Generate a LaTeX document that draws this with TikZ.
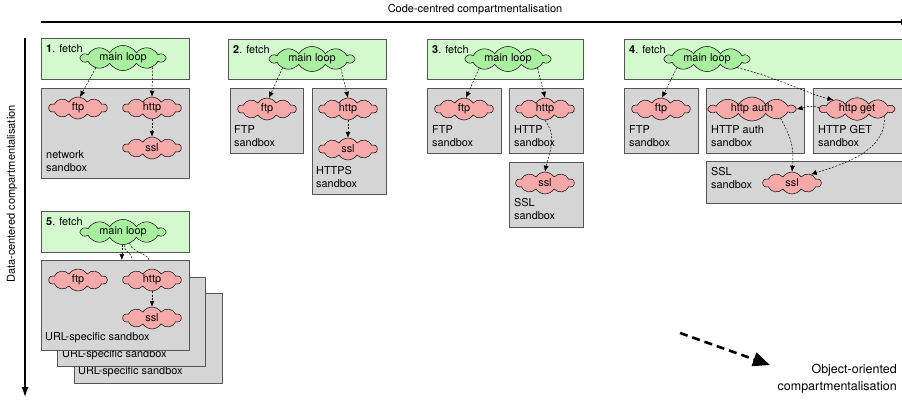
\documentclass[tikz,border=0pt]{standalone}
\usepackage{fontspec}
\setmainfont{TeX Gyre Heros}
\usetikzlibrary{shapes.symbols,arrows.meta,calc}
\definecolor{gfill}{HTML}{D4F9CF}
\definecolor{gcloud}{HTML}{A9EFA0}
\definecolor{rcloud}{HTML}{F5A9A9}
\definecolor{sbox}{HTML}{D5D5D5}
\definecolor{bord}{HTML}{555555}
\tikzset{
 fetchbox/.style={draw=bord, fill=gfill, line width=0.9pt, rectangle, inner sep=0pt, outer sep=0pt, anchor=north west},
 sandbox/.style={draw=bord, fill=sbox, line width=0.9pt, rectangle, inner sep=0pt, outer sep=0pt, anchor=north west},
 cl/.style={cloud, cloud puffs=10, cloud puff arc=115, cloud ignores aspect, draw=black, line width=0.5pt, inner sep=0pt, font=\fontsize{10.9}{12}\selectfont},
 mlc/.style={cl, fill=gcloud, minimum width=84pt, minimum height=20pt},
 rc/.style={cl, fill=rcloud, minimum width=58pt, minimum height=22pt},
 lbl/.style={anchor=west, inner sep=0pt, font=\fontsize{10.9}{12.5}\selectfont, align=left},
 dep/.style={draw, dash pattern=on 2pt off 1.5pt, line width=0.5pt, -{Latex[length=6pt,width=5pt]}},
 depn/.style={draw, dash pattern=on 2pt off 1.5pt, line width=0.5pt},
 axis/.style={draw, line width=1.1pt},
 axlbl/.style={inner sep=0pt, font=\fontsize{11}{12}\selectfont},
}
\begin{document}
\begin{tikzpicture}[x=1pt,y=-1pt]
\useasboundingbox (0,0) rectangle (902,399);
\clip (0,0) rectangle (902,399);
% axes
\node[axlbl] (ctop) at (475,10) {Code-centred compartmentalisation};
\node[axlbl, rotate=90] (dleft) at (12,194) {Data-centered compartmentalisation};
\coordinate (xa) at (41,22);
\coordinate (xb) at (909,22);
\draw[axis, -{Latex[length=8pt,width=6pt]}] (xa) -- (xb);
\coordinate (ya) at (25,38);
\coordinate (yb) at (25,397);
\draw[axis, -{Latex[length=10pt,width=7pt]}] (ya) -- (yb);

% ---------- 1
\node[fetchbox, minimum width=148pt, minimum height=41pt] (f1) at (41,38) {};
\node[sandbox, minimum width=148pt, minimum height=90pt] (s1) at (41,88) {};
\node[lbl] (t1) at (46,49) {\textbf{1}. fetch};
\node[lbl] (n1) at (46,161) {network\\sandbox};
\node[mlc] (ml1) at (123,58) {main loop};
\node[rc] (ftp1) at (78,108) {ftp};
\node[rc] (http1) at (152,108) {http};
\node[rc] (ssl1) at (152,148) {ssl};
\draw[dep] (ml1.200) -- (ftp1.80);
\draw[dep] (ml1.-17) -- (http1.north);
\draw[dep] (http1.south) -- (ssl1.north);

% ---------- 2
\node[fetchbox, minimum width=158pt, minimum height=40pt] (f2) at (228,39) {};
\node[sandbox, minimum width=73pt, minimum height=65pt] (s2a) at (230,88) {};
\node[sandbox, minimum width=74pt, minimum height=106pt] (s2b) at (312,88) {};
\node[lbl] (t2) at (233,50) {\textbf{2}. fetch};
\node[lbl] (n2a) at (234,136) {FTP\\sandbox};
\node[lbl] (n2b) at (316,177) {HTTPS\\sandbox};
\node[mlc] (ml2) at (312,59) {main loop};
\node[rc] (ftp2) at (267,109) {ftp};
\node[rc] (http2) at (348,109) {http};
\node[rc] (ssl2) at (348,149) {ssl};
\draw[dep] (ml2.197) -- (ftp2.80);
\draw[dep] (ml2.-18) -- (http2.north);
\draw[dep] (http2.south) -- (ssl2.north);

% ---------- 3
\node[fetchbox, minimum width=156pt, minimum height=40pt] (f3) at (427,39) {};
\node[sandbox, minimum width=74pt, minimum height=65pt] (s3a) at (427,88) {};
\node[sandbox, minimum width=74pt, minimum height=65pt] (s3b) at (509,88) {};
\node[sandbox, minimum width=74pt, minimum height=65pt] (s3c) at (509,162) {};
\node[lbl] (t3) at (432,50) {\textbf{3}. fetch};
\node[lbl] (n3a) at (432,136) {FTP\\sandbox};
\node[lbl] (n3b) at (514,136) {HTTP\\sandbox};
\node[lbl] (n3c) at (514,209) {SSL\\sandbox};
\node[mlc] (ml3) at (508,59) {main loop};
\node[rc] (ftp3) at (464,109) {ftp};
\node[rc] (http3) at (545,109) {http};
\node[rc] (ssl3) at (545,183) {ssl};
\draw[dep] (ml3.198) -- (ftp3.80);
\draw[dep] (ml3.-17) -- (http3.north);
\draw[dep] (http3.south) .. controls +(13,18) and +(4,-20) .. (ssl3.north);

% ---------- 4
\node[fetchbox, minimum width=300pt, minimum height=40pt] (f4) at (624,39) {};
\node[sandbox, minimum width=74pt, minimum height=65pt] (s4a) at (624,88) {};
\node[sandbox, minimum width=98pt, minimum height=65pt] (s4b) at (706,88) {};
\node[sandbox, minimum width=110pt, minimum height=65pt] (s4c) at (813,88) {};
\node[sandbox, minimum width=220pt, minimum height=42pt] (s4d) at (706,161) {};
\node[lbl] (t4) at (629,50) {\textbf{4}. fetch};
\node[lbl] (n4a) at (629,136) {FTP\\sandbox};
\node[lbl] (n4b) at (711,136) {HTTP auth\\sandbox};
\node[lbl] (n4c) at (818,136) {HTTP GET\\sandbox};
\node[lbl] (n4d) at (711,178) {SSL\\sandbox};
\node[mlc] (ml4) at (707,59) {main loop};
\node[rc] (ftp4) at (661,109) {ftp};
\node[rc, minimum width=86pt] (ha) at (752,109) {http auth};
\node[rc, minimum width=74pt] (hg) at (857,109) {http get};
\node[rc] (ssl4) at (792,183) {ssl};
\draw[dep] (ml4.196) -- (ftp4.85);
\draw[dep] (ml4.-16) .. controls +(40,10) and +(-25,-6) .. (hg.159);
\draw[dep] (hg.178) .. controls +(-10,-3) and +(10,-2) .. (ha.east);
\draw[dep] (ha.-18) .. controls +(12,22) and +(2,-22) .. (ssl4.north);
\draw[dep] (hg.-15) .. controls +(2,32) and +(40,-12) .. (ssl4.25);

% ---------- 5
\node[sandbox, minimum width=148pt, minimum height=90pt] (u3) at (74,293) {};
\node[lbl] (v3) at (78,372) {URL-specific sandbox};
\node[sandbox, minimum width=148pt, minimum height=89pt] (u2) at (57,277) {};
\node[lbl] (v2) at (62,355) {URL-specific sandbox};
\node[fetchbox, minimum width=148pt, minimum height=41pt] (f5) at (41,211) {};
\node[sandbox, minimum width=148pt, minimum height=90pt] (u1) at (41,260) {};
\node[lbl] (v1) at (45,338) {URL-specific sandbox};
\node[lbl] (t5) at (46,222) {\textbf{5}. fetch};
\node[mlc] (ml5) at (123,232) {main loop};
\node[rc] (ftp5) at (78,280) {ftp};
\node[rc] (http5) at (152,280) {http};
\node[rc] (ssl5) at (152,318) {ssl};
\coordinate (u1a) at (132,260);
\coordinate (u1b) at (149,260);
\draw[dep] (ml5.265) -- (ml5.265 |- u1.north);
\draw[depn] (ml5.275) .. controls +(0,8) and +(0,-8) .. (u1a);
\draw[depn] (ml5.-60) .. controls +(1,8) and +(0,-6) .. (u1b);
\draw[dep] (http5.south) -- (ssl5.north);

% ---------- object-oriented
\coordinate (oa) at (680,333);
\coordinate (ob) at (770,365);
\draw[line width=2.6pt, dash pattern=on 8pt off 5pt, -{Triangle[length=17pt,width=14pt]}] (oa) -- (ob);
\node[anchor=east, inner sep=0pt, align=right, font=\fontsize{12.5}{17}\selectfont] (oo) at (897,378.5) {Object-oriented\\compartmentalisation};
\end{tikzpicture}
\end{document}
